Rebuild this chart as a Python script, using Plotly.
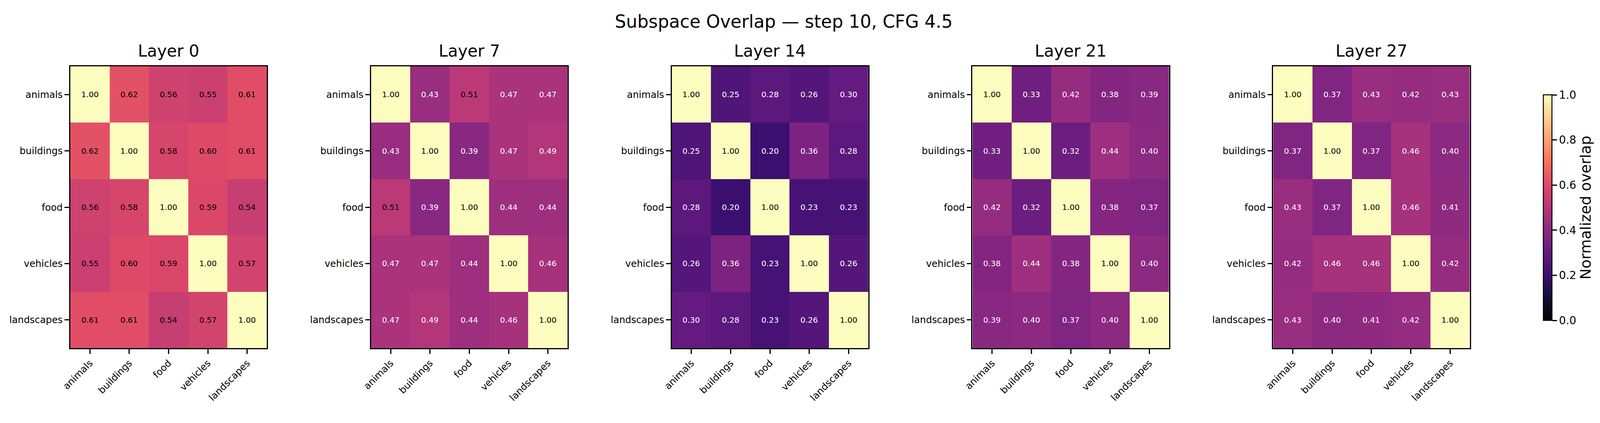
import plotly.graph_objects as go

# reference picture geometry (pixels) -> converted to paper fractions
W, H = 5850, 1084
S = 0.84  # size factor for fonts/lines (page is narrower in CSS px than the reference)

categories = ["animals", "buildings", "food", "vehicles", "landscapes"]
layer_names = ["Layer 0", "Layer 7", "Layer 14", "Layer 21", "Layer 27"]

layer0 = [
    [1.00, 0.62, 0.56, 0.55, 0.61],
    [0.62, 1.00, 0.58, 0.60, 0.61],
    [0.56, 0.58, 1.00, 0.59, 0.54],
    [0.55, 0.60, 0.59, 1.00, 0.57],
    [0.61, 0.61, 0.54, 0.57, 1.00],
]
layer7 = [
    [1.00, 0.43, 0.51, 0.47, 0.47],
    [0.43, 1.00, 0.39, 0.47, 0.49],
    [0.51, 0.39, 1.00, 0.44, 0.44],
    [0.47, 0.47, 0.44, 1.00, 0.46],
    [0.47, 0.49, 0.44, 0.46, 1.00],
]
layer14 = [
    [1.00, 0.25, 0.28, 0.26, 0.30],
    [0.25, 1.00, 0.20, 0.36, 0.28],
    [0.28, 0.20, 1.00, 0.23, 0.23],
    [0.26, 0.36, 0.23, 1.00, 0.26],
    [0.30, 0.28, 0.23, 0.26, 1.00],
]
layer21 = [
    [1.00, 0.33, 0.42, 0.38, 0.39],
    [0.33, 1.00, 0.32, 0.44, 0.40],
    [0.42, 0.32, 1.00, 0.38, 0.37],
    [0.38, 0.44, 0.38, 1.00, 0.40],
    [0.39, 0.40, 0.37, 0.40, 1.00],
]
layer27 = [
    [1.00, 0.37, 0.43, 0.42, 0.43],
    [0.37, 1.00, 0.37, 0.46, 0.40],
    [0.43, 0.37, 1.00, 0.46, 0.41],
    [0.42, 0.46, 0.46, 1.00, 0.42],
    [0.43, 0.40, 0.41, 0.42, 1.00],
]
layers = [layer0, layer7, layer14, layer21, layer27]

colorbar_ticks = [0.0, 0.2, 0.4, 0.6, 0.8, 1.0]

magma = [
    [0.0, "#000004"], [0.1, "#140e36"], [0.2, "#3b0f70"], [0.3, "#641a80"],
    [0.4, "#8c2981"], [0.5, "#b73779"], [0.6, "#de4968"], [0.7, "#f7705c"],
    [0.8, "#fe9f6d"], [0.9, "#fecf92"], [1.0, "#fcfdbf"],
]

FONT = "DejaVu Sans"
ax_left = [224, 1330, 2436, 3542, 4648]
ax_w = 723
ax_top, ax_bot = 170, 892

fig = go.Figure()
annotations = []
layout = {}

for k, (name, z) in enumerate(zip(layer_names, layers)):
    n = k + 1
    xa = "x" if n == 1 else f"x{n}"
    ya = "y" if n == 1 else f"y{n}"
    tr = dict(
        z=z, x=categories, y=categories, zmin=0, zmax=1,
        colorscale=magma, xaxis=xa, yaxis=ya, hoverinfo="skip",
        showscale=(k == 0),
    )
    if k == 0:
        tr["colorbar"] = dict(
            x=5641 / W, xanchor="left", xpad=0, ypad=0,
            y=1 - 532 / H, yanchor="middle", len=(821 - 243) / H, lenmode="fraction",
            thickness=31 / W, thicknessmode="fraction",
            outlinewidth=3 * S, outlinecolor="black",
            tickvals=colorbar_ticks, ticktext=[f"{t:.1f}" for t in colorbar_ticks],
            ticks="outside", ticklen=14 * S, tickwidth=3 * S, tickcolor="black",
            tickfont=dict(family=FONT, size=33 * S, color="black"),
            title=dict(text="Normalized overlap", side="right",
                       font=dict(family=FONT, size=45 * S, color="black")),
        )
    fig.add_trace(go.Heatmap(**tr))

    x0 = ax_left[k] / W
    x1 = (ax_left[k] + ax_w) / W
    axis_common = dict(
        showline=True, linewidth=3 * S, linecolor="black", mirror=True,
        ticks="outside", ticklen=14 * S, tickwidth=3 * S, tickcolor="black",
        showgrid=False, zeroline=False,
        tickfont=dict(family=FONT, size=29 * S, color="black"),
    )
    layout["xaxis" if n == 1 else f"xaxis{n}"] = dict(
        domain=[x0, x1], anchor=ya, range=[-0.5, 4.5], tickangle=-45,
        **axis_common,
    )
    layout["yaxis" if n == 1 else f"yaxis{n}"] = dict(
        domain=[1 - ax_bot / H, 1 - ax_top / H], anchor=xa, range=[4.5, -0.5],
        **axis_common,
    )

    annotations.append(dict(
        text=name, x=(ax_left[k] + ax_w / 2) / W, y=1 - 131 / H,
        xref="paper", yref="paper", xanchor="center", yanchor="middle",
        showarrow=False, font=dict(family=FONT, size=50 * S, color="black"),
    ))
    for i, row in enumerate(z):
        for j, v in enumerate(row):
            annotations.append(dict(
                text=f"{v:.2f}", x=categories[j], y=categories[i],
                xref=xa, yref=ya, showarrow=False,
                font=dict(family=FONT, size=24 * S,
                          color="white" if v < 0.5 else "black"),
            ))

annotations.append(dict(
    text="Subspace Overlap — step 10, CFG 4.5", x=2848 / W, y=1 - 55 / H,
    xref="paper", yref="paper", xanchor="center", yanchor="middle",
    showarrow=False, font=dict(family=FONT, size=54 * S, color="black"),
))

fig.update_layout(
    autosize=True, margin=dict(l=0, r=0, t=0, b=0, pad=0),
    paper_bgcolor="white", plot_bgcolor="white",
    annotations=annotations, showlegend=False,
    font=dict(family=FONT, color="black"),
    **layout,
)

post = (
    "document.body.style.margin='0';"
    "document.body.style.overflow='hidden';"
    "document.documentElement.style.overflow='hidden';"
    "var gd=document.getElementById('{plot_id}');"
    "gd.style.width='100vw';gd.style.height='100vh';"
    "Plotly.Plots.resize(gd);"
)

fig.write_html("out.html", default_width="100vw", default_height="100vh",
               config={"responsive": True, "displayModeBar": False},
               post_script=post)
